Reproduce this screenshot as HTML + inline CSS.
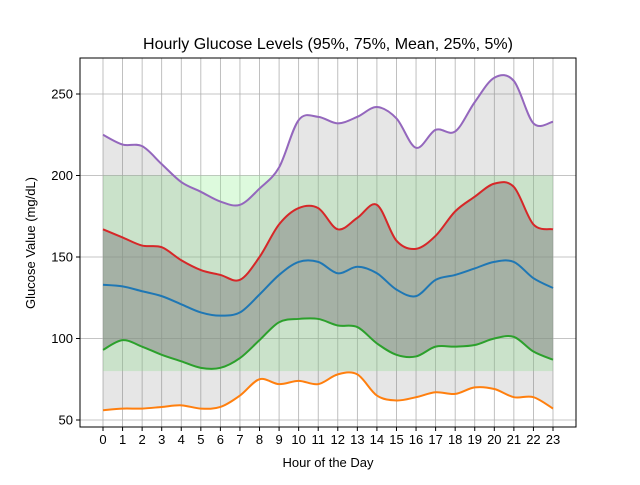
<!DOCTYPE html>
<html><head><meta charset="utf-8"><style>
body{margin:0;background:#fff;font-family:"Liberation Sans",sans-serif}
svg text{font-family:"Liberation Sans",sans-serif}
</style></head><body>
<svg id="c" width="640" height="480" viewBox="0 0 640 480">
<rect x="0" y="0" width="640" height="480" fill="#fff"/>
<text x="328" y="49" font-size="16" text-anchor="middle">Hourly Glucose Levels (95%, 75%, Mean, 25%, 5%)</text>
<g id="grid"></g><g id="fills"></g><g id="lines"></g><g id="axes"></g>
<text x="328" y="467" font-size="13" text-anchor="middle">Hour of the Day</text>
<text x="35" y="243" font-size="13" text-anchor="middle" transform="rotate(-90 35 243)">Glucose Value (mg/dL)</text>
</svg>
<script>
const hours=[0,1,2,3,4,5,6,7,8,9,10,11,12,13,14,15,16,17,18,19,20,21,22,23];
const p95=[225,219,218,207,196,190,184,182,192,205,234,236,232,236,242,235,217,228,227,245,260,258,232,233];
const p75=[167,162,157,156,148,142,139,136,150,170,180,180,167,174,182,160,155,163,178,187,195,193,170,167];
const meanV=[133,132,129,126,121,116,114,116,127,139,147,147,140,144,140,130,126,136,139,143,147,147,137,131];
const p25=[93,99,95,90,86,82,82,88,99,110,112,112,108,107,97,90,89,95,95,96,100,101,92,87];
const p05=[56,57,57,58,59,57,58,65,75,72,74,72,78,78,65,62,64,67,66,70,69,64,64,57];
const yTicks=[50,100,150,200,250];
const band=[80,200];
const L=80,R=576,T=58,B=427;
const X=h=>103+h*(450/23);
const Y=v=>420-(v-50)*1.63;
const NS="http://www.w3.org/2000/svg";
function mk(tag,attrs,parent){const e=document.createElementNS(NS,tag);for(const k in attrs)e.setAttribute(k,attrs[k]);document.getElementById(parent).appendChild(e);return e;}
function smooth(vals,rev){let pts=hours.map((h,i)=>[X(h),Y(vals[i])]);if(rev)pts=pts.slice().reverse();
 let d="";for(let i=0;i<pts.length-1;i++){const p0=pts[Math.max(0,i-1)],p1=pts[i],p2=pts[i+1],p3=pts[Math.min(pts.length-1,i+2)];
 const c1=[p1[0]+(p2[0]-p0[0])/6,p1[1]+(p2[1]-p0[1])/6],c2=[p2[0]-(p3[0]-p1[0])/6,p2[1]-(p3[1]-p1[1])/6];
 d+=(i===0?"":"")+` C${c1[0]},${c1[1]} ${c2[0]},${c2[1]} ${p2[0]},${p2[1]}`;}
 return {start:pts[0],d};}
function linePath(v){const s=smooth(v,false);return `M${s.start[0]},${s.start[1]}`+s.d;}
function areaPath(a,b){const s1=smooth(a,false),s2=smooth(b,true);return `M${s1.start[0]},${s1.start[1]}`+s1.d+` L${s2.start[0]},${s2.start[1]}`+s2.d+"Z";}
// grid
hours.forEach(h=>{const g=mk("line",{x1:X(h),x2:X(h),y1:T,y2:B,stroke:"#b0b0b0","stroke-width":0.8},"grid");

});
yTicks.forEach(v=>{const g=mk("line",{x1:L,x2:R,y1:Y(v),y2:Y(v),stroke:"#b0b0b0","stroke-width":0.8},"grid");

});
// band
const bd=mk("rect",{x:X(0),y:Y(band[1]),width:X(23)-X(0),height:Y(band[0])-Y(band[1]),fill:"rgba(144,238,144,0.3)"},"fills");


const f1=mk("path",{d:areaPath(p95,p05),fill:"rgba(128,128,128,0.2)"},"fills");


const f2=mk("path",{d:areaPath(p75,p25),fill:"rgba(128,128,128,0.5)"},"fills");


[[p95,"#9467bd","line-95"],[p75,"#d62728","line-75"],[meanV,"#1f77b4","line-mean"],[p25,"#2ca02c","line-25"],[p05,"#ff7f0e","line-5"]].forEach(([v,c,n])=>{
const l=mk("path",{d:linePath(v),fill:"none",stroke:c,"stroke-width":2},"lines");

});
// axes
const fr=mk("rect",{x:L,y:T,width:R-L,height:B-T,fill:"none",stroke:"#000","stroke-width":1},"axes");


hours.forEach(h=>{mk("line",{x1:X(h),x2:X(h),y1:B,y2:B+4,stroke:"#000"},"axes");
const t=mk("text",{x:X(h),y:B+17,"font-size":13,"text-anchor":"middle"},"axes");t.textContent=h;

});
yTicks.forEach(v=>{mk("line",{x1:L-4,x2:L,y1:Y(v),y2:Y(v),stroke:"#000"},"axes");
const t=mk("text",{x:L-7,y:Y(v)+4.5,"font-size":13,"text-anchor":"end"},"axes");t.textContent=v;

});
</script>
</body></html>
